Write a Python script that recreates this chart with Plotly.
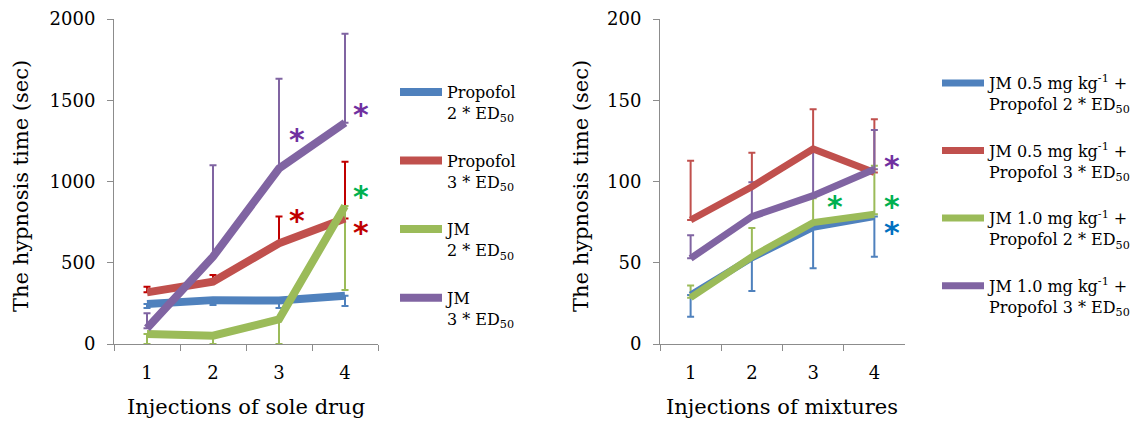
import plotly.graph_objects as go

W, H = 1146, 421
OFF = 8  # page body margin of the generated html


def px(x):
    return (x - OFF) / W


def py(y):
    return 1 - (y - OFF) / H


cats = ["1", "2", "3", "4"]

# ---- left panel: sole drug ----
left_names = ["Propofol<br>2 * ED<sub>50</sub>", "Propofol<br>3 * ED<sub>50</sub>",
              "JM<br>2 * ED<sub>50</sub>", "JM<br>3 * ED<sub>50</sub>"]
prop2 = [246, 270, 267, 297]
prop3 = [318, 383, 620, 773]
jm2 = [62, 51, 152, 849]
jm3 = [97, 537, 1080, 1362]
prop2_err_dn = [25, 30, 45, 63]
prop3_err_up = [35, 42, 164, 349]
jm2_err_dn = [62, 51, 152, 517]
jm3_err_up = [93, 563, 552, 548]

# ---- right panel: mixtures ----
right_names = ["JM 0.5 mg kg<sup>-1</sup> +<br>Propofol 2 * ED<sub>50</sub>",
               "JM 0.5 mg kg<sup>-1</sup> +<br>Propofol 3 * ED<sub>50</sub>",
               "JM 1.0 mg kg<sup>-1</sup> +<br>Propofol 2 * ED<sub>50</sub>",
               "JM 1.0 mg kg<sup>-1</sup> +<br>Propofol 3 * ED<sub>50</sub>"]
mix_a = [30.2, 53.0, 71.8, 78.4]
mix_b = [76.3, 96.8, 120.0, 105.6]
mix_c = [28.5, 53.7, 74.7, 79.8]
mix_d = [52.7, 78.4, 91.3, 107.5]
mix_a_err_dn = [13.4, 20.4, 25.2, 24.7]
mix_b_err_up = [36.5, 20.9, 24.4, 32.7]
mix_c_err_up = [7.5, 17.7, 15.0, 29.9]
mix_d_err_up = [14.2, 21.1, 27.0, 24.2]

line_colors = ["#4F81BD", "#C0504D", "#9BBB59", "#8064A2"]

# significance asterisks: (category index position, y, color)
left_stars_x = [2.27, 3.24, 2.27, 3.24, 3.24]
left_stars_y = [1275, 1428, 780, 928, 706]
left_stars_c = ["#7030A0", "#7030A0", "#C00000", "#00B050", "#C00000"]
right_stars_x = [3.29, 2.36, 3.29, 3.29]
right_stars_y = [110.8, 86.2, 86.2, 70.2]
right_stars_c = ["#7030A0", "#00B050", "#00B050", "#0070C0"]

FONT = "DejaVu Serif"
fig = go.Figure()


def err_trace(y, up, dn, color, xa, ya):
    return go.Scatter(
        x=cats, y=y, mode="markers", xaxis=xa, yaxis=ya, showlegend=False,
        hoverinfo="skip",
        marker=dict(size=1, color="rgba(0,0,0,0)"),
        error_y=dict(type="data", symmetric=False,
                     array=up if up is not None else [0] * 4,
                     arrayminus=dn if dn is not None else [0] * 4,
                     color=color, thickness=2, width=3.5))


# error bars first (behind lines)
fig.add_trace(err_trace(prop2, None, prop2_err_dn, line_colors[0], "x", "y"))
fig.add_trace(err_trace(prop3, prop3_err_up, None, "#C00000", "x", "y"))
fig.add_trace(err_trace(jm2, None, jm2_err_dn, line_colors[2], "x", "y"))
fig.add_trace(err_trace(jm3, jm3_err_up, None, line_colors[3], "x", "y"))

fig.add_trace(err_trace(mix_a, None, mix_a_err_dn, line_colors[0], "x2", "y2"))
fig.add_trace(err_trace(mix_b, mix_b_err_up, None, line_colors[1], "x2", "y2"))
fig.add_trace(err_trace(mix_c, mix_c_err_up, None, line_colors[2], "x2", "y2"))
fig.add_trace(err_trace(mix_d, mix_d_err_up, None, line_colors[3], "x2", "y2"))

for i, (name, ys) in enumerate(zip(left_names, [prop2, prop3, jm2, jm3])):
    fig.add_trace(go.Scatter(x=cats, y=ys, mode="lines", name=name,
                             line=dict(color=line_colors[i], width=8),
                             xaxis="x", yaxis="y", legend="legend",
                             legendgroup="L%d" % i))
for i, (name, ys) in enumerate(zip(right_names, [mix_a, mix_b, mix_c, mix_d])):
    fig.add_trace(go.Scatter(x=cats, y=ys, mode="lines", name=name,
                             line=dict(color=line_colors[i], width=7),
                             xaxis="x2", yaxis="y2", legend="legend2",
                             legendgroup="R%d" % i))

ann = []
for xs, ys, cs, xr, yr in [(left_stars_x, left_stars_y, left_stars_c, "x", "y"),
                           (right_stars_x, right_stars_y, right_stars_c, "x2", "y2")]:
    for x, y, c in zip(xs, ys, cs):
        ann.append(dict(x=x, y=y, xref=xr, yref=yr, text="<b>*</b>", showarrow=False,
                        xanchor="center", yanchor="middle",
                        font=dict(family="DejaVu Sans", size=30, color=c),
                        yshift=-3))

# axis titles
axis_grey = "#8C8C8C"
tfont = dict(family=FONT, size=21, color="black")
ann.append(dict(x=px(246), y=py(407), xref="paper", yref="paper",
                xanchor="center", yanchor="middle",
                text="Injections of sole drug", showarrow=False, font=tfont))
ann.append(dict(x=px(782), y=py(407), xref="paper", yref="paper",
                xanchor="center", yanchor="middle",
                text="Injections of mixtures", showarrow=False, font=tfont))
ann.append(dict(x=px(21), y=py(186), xref="paper", yref="paper",
                xanchor="center", yanchor="middle",
                text="The hypnosis time (sec)", showarrow=False, textangle=-90,
                font=tfont))
ann.append(dict(x=px(581), y=py(186), xref="paper", yref="paper",
                xanchor="center", yanchor="middle",
                text="The hypnosis time (sec)", showarrow=False, textangle=-90,
                font=tfont))

xcommon = dict(type="category", tickson="boundaries", showline=True,
               linecolor=axis_grey, linewidth=1, ticks="outside", ticklen=6,
               tickcolor=axis_grey, showgrid=False, zeroline=False,
               tickfont=dict(family=FONT, size=18, color="black"),
               ticklabelstandoff=12, range=[-0.5, 3.5], fixedrange=True,
               automargin=False)
ycommon = dict(showline=True, linecolor=axis_grey, linewidth=1, ticks="outside",
               ticklen=6, tickcolor=axis_grey, showgrid=False, zeroline=False,
               tickfont=dict(family=FONT, size=18, color="black"),
               ticklabelstandoff=8, fixedrange=True, automargin=False)

ydom = [py(344), py(19)]
fig.update_layout(
    width=W, height=H, autosize=False,
    margin=dict(l=0, r=0, t=0, b=0, pad=0, autoexpand=False),
    paper_bgcolor="white", plot_bgcolor="white",
    font=dict(family=FONT, color="black"),
    xaxis=dict(xcommon, domain=[px(114), px(378)], anchor="y"),
    yaxis=dict(ycommon, domain=ydom, anchor="x", range=[0, 2000],
               tickvals=[0, 500, 1000, 1500, 2000]),
    xaxis2=dict(xcommon, domain=[px(660), px(905)], anchor="y2"),
    yaxis2=dict(ycommon, domain=ydom, anchor="x2", range=[0, 200],
                tickvals=[0, 50, 100, 150, 200]),
    legend=dict(x=px(395), y=py(75), xanchor="left", yanchor="top",
                font=dict(family=FONT, size=16, color="black"),
                tracegroupgap=24, itemwidth=42, valign="top",
                bgcolor="rgba(0,0,0,0)"),
    legend2=dict(x=px(937), y=py(66), xanchor="left", yanchor="top",
                 font=dict(family=FONT, size=16, color="black"),
                 tracegroupgap=23, itemwidth=42, valign="top",
                 bgcolor="rgba(0,0,0,0)"),
    annotations=ann,
    showlegend=True,
)

fig.write_html("out.html")
